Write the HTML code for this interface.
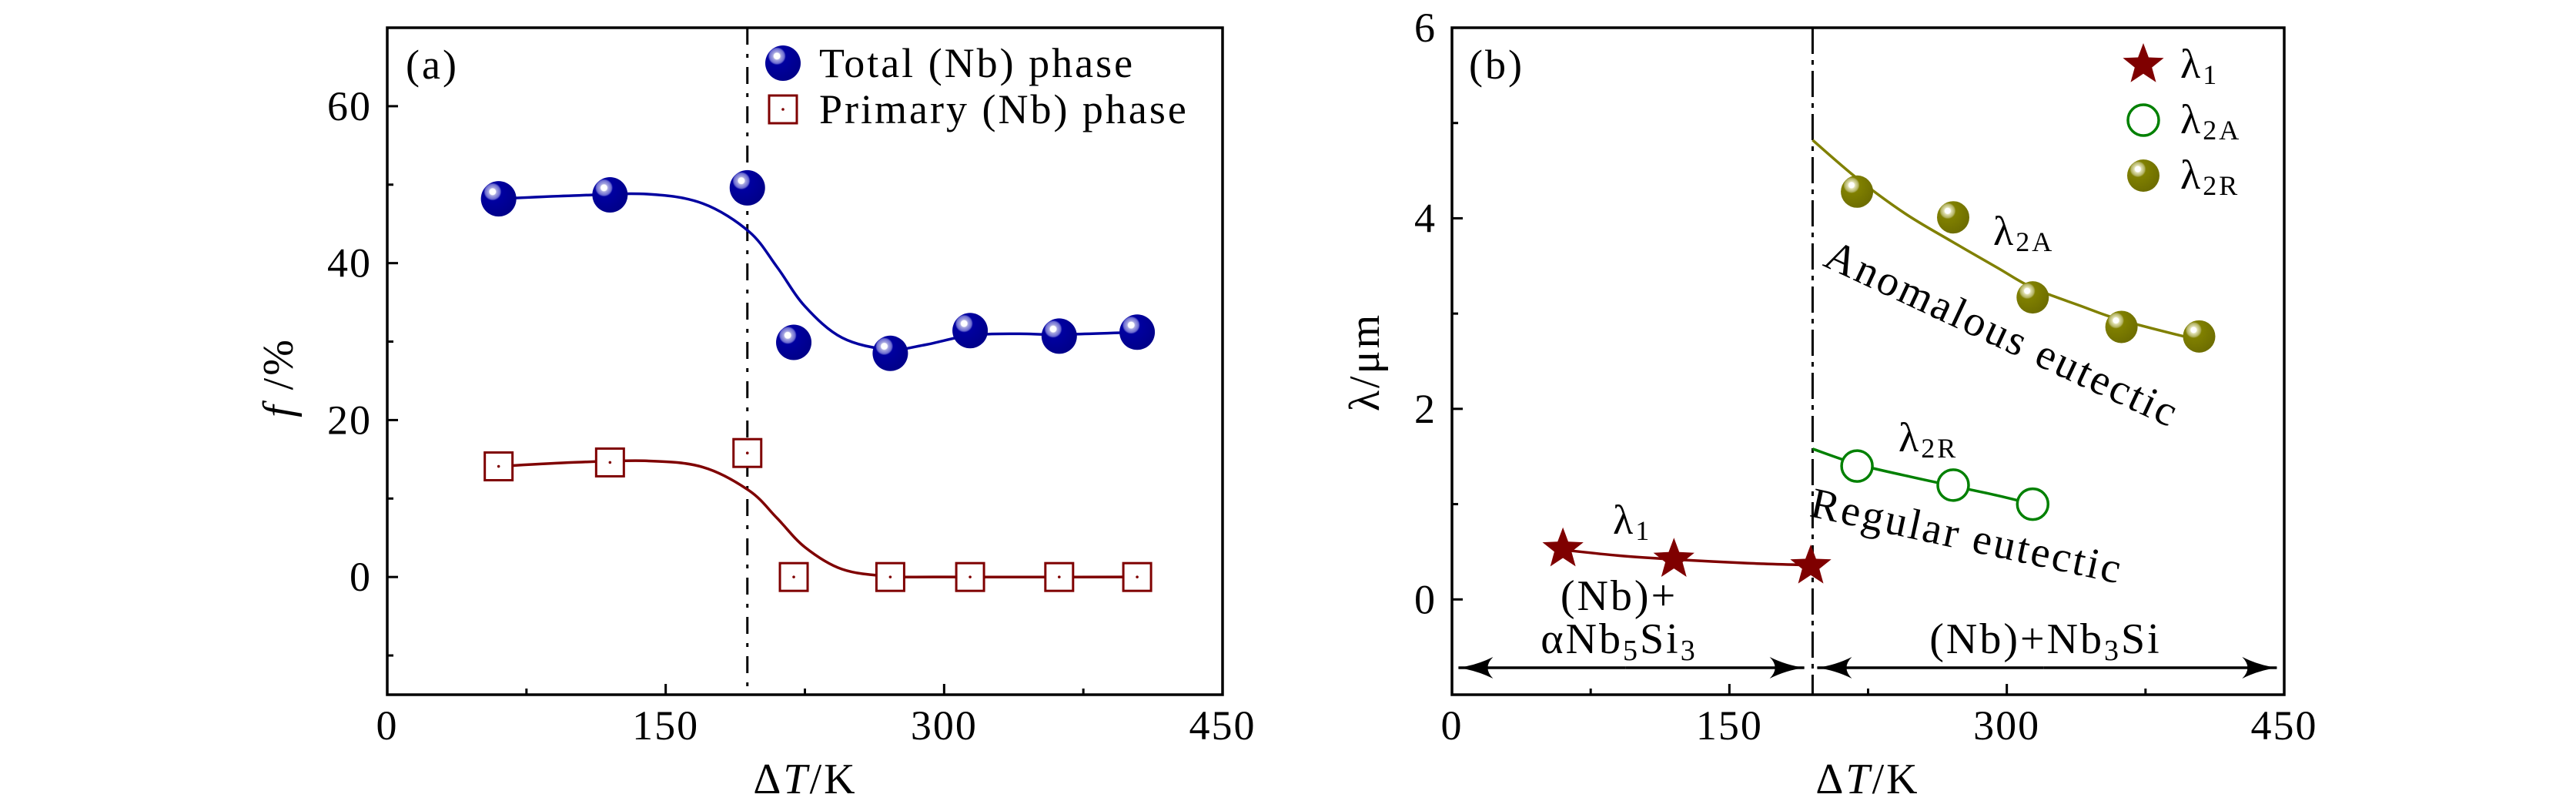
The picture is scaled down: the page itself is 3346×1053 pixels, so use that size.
<!DOCTYPE html>
<html><head><meta charset="utf-8"><style>
html,body{margin:0;padding:0;background:#fff;}
svg{display:block;font-family:"Liberation Serif","DejaVu Serif",serif;}
</style></head><body>
<svg id="fig" width="3346" height="1053" viewBox="0 0 3346 1053" xmlns="http://www.w3.org/2000/svg">
<defs>
<radialGradient id="gBlue" cx="0.33" cy="0.3" r="0.7">
<stop offset="0" stop-color="#ffffff"/><stop offset="0.12" stop-color="#ffffff"/><stop offset="0.16" stop-color="#a8a8e0"/><stop offset="0.3" stop-color="#6a6ad0"/><stop offset="0.36" stop-color="#0000a0"/><stop offset="1" stop-color="#00008a"/></radialGradient>
<radialGradient id="gOlive" cx="0.33" cy="0.3" r="0.7">
<stop offset="0" stop-color="#ffffff"/><stop offset="0.12" stop-color="#ffffff"/><stop offset="0.16" stop-color="#e0e0b0"/><stop offset="0.3" stop-color="#b0b060"/><stop offset="0.36" stop-color="#808000"/><stop offset="1" stop-color="#6e6e00"/></radialGradient>
<marker id="arrowEnd" viewBox="0 0 46 30" refX="45" refY="15" markerWidth="46" markerHeight="30" markerUnits="userSpaceOnUse" orient="auto">
<path d="M0,1 Q22,12 46,15 Q22,18 0,29 Q14,15 0,1 Z" fill="#000"/></marker>
</defs>
<g id="panelA"></g>
<g id="panelB"></g>
</svg>
<script>
// ---- Panel (a) data ----
const aX = [60, 120, 194, 219, 271, 314, 362, 404];
const aTotal = [48.2, 48.7, 49.6, 29.9, 28.5, 31.4, 30.7, 31.2];
const aPrimary = [14.1, 14.6, 15.8, 0, 0, 0, 0, 0];
const aTotalFitX = [60, 100, 140, 170, 195, 210, 225, 245, 270, 290, 314, 340, 362, 404];
const aTotalFitY = [48.2, 48.6, 48.8, 47.6, 44.0, 39.5, 34.5, 30.5, 29.0, 29.6, 30.8, 31.0, 30.9, 31.2];
const aPrimFitX = [60, 100, 140, 170, 195, 210, 225, 245, 270, 300, 404];
const aPrimFitY = [14.1, 14.6, 14.8, 14.0, 11.0, 7.5, 3.8, 1.0, 0.1, 0, 0];
const aXTicks = [0, 150, 300, 450];
const aYTicks = [0, 20, 40, 60];
const aTransition = 194;
// ---- Panel (b) data ----
const bStarX = [60, 120, 194];
const bStarY = [0.53, 0.42, 0.35];
const bOpenX = [219, 271, 314];
const bOpenY = [1.40, 1.20, 1.00];
const bBallX = [219, 271, 314, 362, 404];
const bBallY = [4.28, 4.01, 3.17, 2.86, 2.76];
const bRedFitX = [60, 90, 120, 160, 194];
const bRedFitY = [0.52, 0.46, 0.42, 0.38, 0.36];
const bGreenFitX = [195, 219, 245, 271, 295, 314];
const bGreenFitY = [1.58, 1.42, 1.30, 1.19, 1.09, 1.00];
const bOliveFitX = [195, 219, 245, 270, 295, 314, 340, 362, 404];
const bOliveFitY = [4.82, 4.42, 4.05, 3.76, 3.48, 3.27, 3.08, 2.93, 2.72];
const bXTicks = [0, 150, 300, 450];
const bYTicks = [0, 2, 4, 6];
const bTransition = 195;

const NS = "http://www.w3.org/2000/svg";
function mk(parent, tag, attrs, text) {
  const e = document.createElementNS(NS, tag);
  for (const k in attrs) e.setAttribute(k, attrs[k]);
  if (text !== undefined) e.textContent = text;
  parent.appendChild(e);
  return e;
}
function scale(d0, d1, r0, r1) { return v => r0 + (v - d0) / (d1 - d0) * (r1 - r0); }
function smoothPath(xs, ys, sx, sy) {
  const p = xs.map((x, i) => [sx(x), sy(ys[i])]);
  let d = "M" + p[0][0] + "," + p[0][1];
  for (let i = 0; i < p.length - 1; i++) {
    const p0 = p[Math.max(0, i - 1)], p1 = p[i], p2 = p[i + 1], p3 = p[Math.min(p.length - 1, i + 2)];
    const c1 = [p1[0] + (p2[0] - p0[0]) / 6, p1[1] + (p2[1] - p0[1]) / 6];
    const c2 = [p2[0] - (p3[0] - p1[0]) / 6, p2[1] - (p3[1] - p1[1]) / 6];
    d += " C" + c1 + " " + c2 + " " + p2;
  }
  return d;
}
function frame(g, L, R, T, B, sx, sy, xT, yT, xMinor, yMinor, name) {
  const fr = mk(g, "rect", {x: L, y: T, width: R - L, height: B - T, fill: "none", stroke: "#000", "stroke-width": 3.5});
  
  
  xT.forEach(v => {
    const t = mk(g, "line", {x1: sx(v), x2: sx(v), y1: B, y2: B - 14, stroke: "#000", "stroke-width": 3});
    
    
    const l = mk(g, "text", {x: sx(v), y: 960, "font-size": 54, "letter-spacing": 2, "text-anchor": "middle"}, String(v));
    
    
  });
  xMinor.forEach(v => {
    const t = mk(g, "line", {x1: sx(v), x2: sx(v), y1: B, y2: B - 8, stroke: "#000", "stroke-width": 3});
    
    
  });
  yT.forEach(v => {
    const t = mk(g, "line", {x1: L, x2: L + 14, y1: sy(v), y2: sy(v), stroke: "#000", "stroke-width": 3});
    
    
    const l = mk(g, "text", {x: L - 20, y: sy(v) + 18, "font-size": 54, "letter-spacing": 2, "text-anchor": "end"}, String(v));
    
    
  });
  yMinor.forEach(v => {
    const t = mk(g, "line", {x1: L, x2: L + 8, y1: sy(v), y2: sy(v), stroke: "#000", "stroke-width": 3});
    
    
  });
}
function ball(g, cx, cy, r, grad, name) {
  const c = mk(g, "circle", {cx: cx, cy: cy, r: r, fill: "url(#" + grad + ")"});
  
  
}
function square(g, cx, cy, name) {
  const s = mk(g, "rect", {x: cx - 18, y: cy - 18, width: 36, height: 36, fill: "#fff", stroke: "#7f0000", "stroke-width": 3});
  
  
  mk(g, "circle", {cx: cx, cy: cy, r: 1.8, fill: "#7f0000"});
}
function star(g, cx, cy, R, name) {
  let d = "";
  for (let i = 0; i < 10; i++) {
    const r = i % 2 ? R * 0.42 : R;
    const a = -Math.PI / 2 + i * Math.PI / 5;
    d += (i ? "L" : "M") + (cx + r * Math.cos(a)).toFixed(1) + "," + (cy + r * Math.sin(a)).toFixed(1);
  }
  const s = mk(g, "path", {d: d + "Z", fill: "#7f0000"});
  
  
}
function openCircle(g, cx, cy, name) {
  const c = mk(g, "circle", {cx: cx, cy: cy, r: 20, fill: "#fff", stroke: "#008000", "stroke-width": 3.5});
  
  
}
function label(g, x, y, html, name, size, extra) {
  const t = mk(g, "text", Object.assign({x: x, y: y, "font-size": size || 54, "letter-spacing": 3}, extra || {}));
  t.innerHTML = html;
  
  
  return t;
}

// ===== Panel A =====
(function () {
  const g = document.getElementById("panelA");
  const L = 503, R = 1588, T = 36, B = 902;
  const sx = scale(0, 450, L, R), sy = scale(-15, 70, B, T);
  frame(g, L, R, T, B, sx, sy, aXTicks, aYTicks, [75, 225, 375], [-10, 10, 30, 50], 'panel-a');
  const vl = mk(g, "line", {x1: sx(aTransition), x2: sx(aTransition), y1: T, y2: B, stroke: "#000", "stroke-width": 3, "stroke-dasharray": "22 12 5 12"});
  
  
  const f1 = mk(g, "path", {d: smoothPath(aTotalFitX, aTotalFitY, sx, sy), fill: "none", stroke: "#0000a0", "stroke-width": 3.5});
  
  
  const f2 = mk(g, "path", {d: smoothPath(aPrimFitX, aPrimFitY, sx, sy), fill: "none", stroke: "#7f0000", "stroke-width": 3.5});
  
  
  aX.forEach((x, i) => square(g, sx(x), sy(aPrimary[i]), 'primary-point'));
  aX.forEach((x, i) => ball(g, sx(x), sy(aTotal[i]), 23, "gBlue", 'total-point'));
  label(g, 527, 102, "(a)", 'panel-label-a');
  ball(g, 1017, 82, 23, "gBlue", 'legend-total-marker');
  label(g, 1064, 100, "Total (Nb) phase", 'legend-total');
  square(g, 1017, 142, 'legend-primary-marker');
  label(g, 1064, 160, "Primary (Nb) phase", 'legend-primary');
  label(g, 1046, 1030, 'Δ<tspan font-style="italic">T</tspan>/K', 'x-axis-title', 56, {"text-anchor": "middle"});
  label(g, 0, 0, '<tspan font-style="italic">f</tspan> /%', 'y-axis-title', 56, {"text-anchor": "middle", transform: "translate(380,490) rotate(-90)"});
})();

// ===== Panel B =====
(function () {
  const g = document.getElementById("panelB");
  const L = 1886, R = 2967, T = 36, B = 902;
  const sx = scale(0, 450, L, R), sy = scale(-1, 6, B, T);
  frame(g, L, R, T, B, sx, sy, bXTicks, bYTicks, [75, 225, 375], [1, 3, 5], 'panel-b');
  const vl = mk(g, "line", {x1: sx(bTransition), x2: sx(bTransition), y1: T, y2: B, stroke: "#000", "stroke-width": 3, "stroke-dasharray": "34 8 6 8"});
  
  
  const ay = 867;
  const a1 = mk(g, "line", {x1: sx(94), x2: sx(3.5), y1: ay, y2: ay, stroke: "#000", "stroke-width": 3.5, "marker-end": "url(#arrowEnd)"});
   
  mk(g, "line", {x1: sx(94), x2: sx(190.5), y1: ay, y2: ay, stroke: "#000", "stroke-width": 3.5, "marker-end": "url(#arrowEnd)"});
  const a2 = mk(g, "line", {x1: sx(320), x2: sx(197.5), y1: ay, y2: ay, stroke: "#000", "stroke-width": 3.5, "marker-end": "url(#arrowEnd)"});
   
  mk(g, "line", {x1: sx(320), x2: sx(446), y1: ay, y2: ay, stroke: "#000", "stroke-width": 3.5, "marker-end": "url(#arrowEnd)"});
  const c1 = mk(g, "path", {d: smoothPath(bRedFitX, bRedFitY, sx, sy), fill: "none", stroke: "#7f0000", "stroke-width": 3.5});
   
  const c2 = mk(g, "path", {d: smoothPath(bGreenFitX, bGreenFitY, sx, sy), fill: "none", stroke: "#008000", "stroke-width": 3.5});
   
  const c3 = mk(g, "path", {d: smoothPath(bOliveFitX, bOliveFitY, sx, sy), fill: "none", stroke: "#808000", "stroke-width": 3.5});
   
  bStarX.forEach((x, i) => star(g, sx(x), sy(bStarY[i]), 28, 'lambda1-point'));
  bOpenX.forEach((x, i) => openCircle(g, sx(x), sy(bOpenY[i]), 'lambda2r-point'));
  bBallX.forEach((x, i) => ball(g, sx(x), sy(bBallY[i]), 21, "gOlive", 'lambda2a-point'));
  label(g, 1908, 102, "(b)", 'panel-label-b');
  star(g, 2784, 84, 28, 'legend-lambda1-marker');
  label(g, 2832, 101, 'λ<tspan font-size="36" dy="8">1</tspan>', 'legend-lambda1');
  openCircle(g, 2784, 156, 'legend-lambda2a-marker');
  label(g, 2832, 173, 'λ<tspan font-size="36" dy="8">2A</tspan>', 'legend-lambda2a');
  ball(g, 2784, 228, 21, "gOlive", 'legend-lambda2r-marker');
  label(g, 2832, 245, 'λ<tspan font-size="36" dy="8">2R</tspan>', 'legend-lambda2r');
  label(g, 2095, 693, 'λ<tspan font-size="36" dy="8">1</tspan>', 'lambda1-label');
  label(g, 2466, 586, 'λ<tspan font-size="36" dy="8">2R</tspan>', 'lambda2r-label');
  label(g, 2589, 318, 'λ<tspan font-size="36" dy="8">2A</tspan>', 'lambda2a-label');
  label(g, 2103, 792, '(Nb)+', 'phase-left-line1', 56, {"text-anchor": "middle"});
  label(g, 2103, 848, 'αNb<tspan font-size="38" dy="9">5</tspan><tspan dy="-9">Si</tspan><tspan font-size="38" dy="9">3</tspan>', 'phase-left-line2', 56, {"text-anchor": "middle"});
  label(g, 2657, 848, '(Nb)+Nb<tspan font-size="38" dy="9">3</tspan><tspan dy="-9">Si</tspan>', 'phase-right', 56, {"text-anchor": "middle"});
  label(g, 0, 0, 'Anomalous eutectic', 'anomalous-eutectic-label', 56, {"text-anchor": "middle", transform: "translate(2593,450) rotate(25)"});
  label(g, 0, 0, 'Regular eutectic', 'regular-eutectic-label', 56, {"text-anchor": "middle", transform: "translate(2551,714) rotate(12.3)"});
  label(g, 2426, 1030, 'Δ<tspan font-style="italic">T</tspan>/K', 'x-axis-title', 56, {"text-anchor": "middle"});
  label(g, 0, 0, 'λ/μm', 'y-axis-title', 56, {"text-anchor": "middle", transform: "translate(1791,470) rotate(-90)"});
})();
</script>
</body></html>
